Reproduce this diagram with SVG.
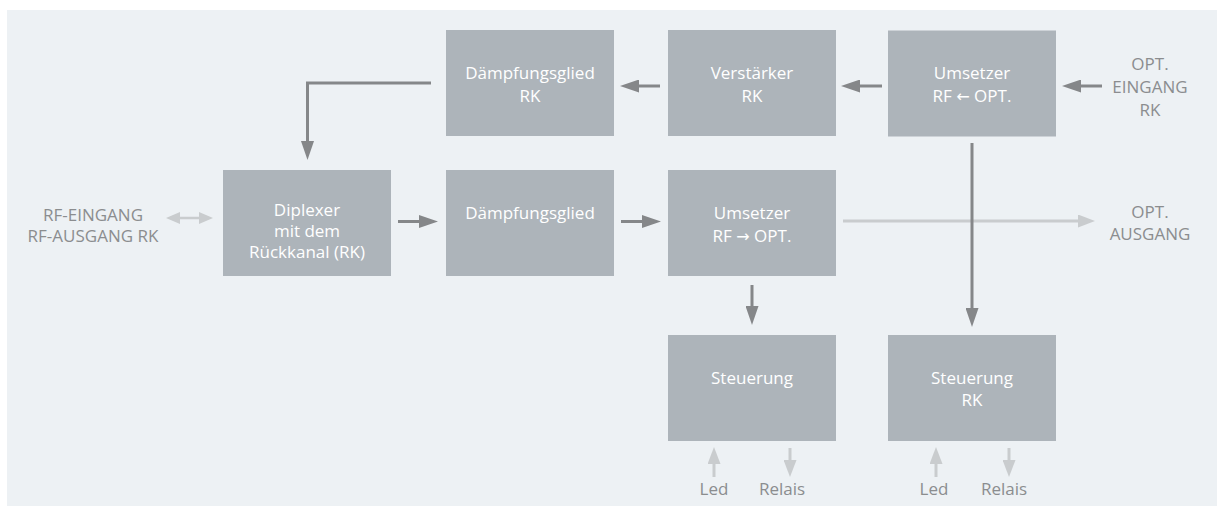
<svg xmlns="http://www.w3.org/2000/svg" width="1217" height="506" viewBox="0 0 1217 506">
  <style>
    .box { fill: #adb4ba; }
    .bt { font-family: "Open Sans", "Noto Sans", sans-serif; font-size: 17px; fill: #ffffff; text-anchor: middle; }
    .ot { font-family: "Open Sans", "Noto Sans", sans-serif; font-size: 17px; fill: #8b8d8f; text-anchor: middle; }
    .arr { font-family: "DejaVu Sans", sans-serif; font-size: 16px; }
    .dk { stroke: #858789; stroke-width: 3; fill: none; }
    .lt { stroke: #c9ccce; stroke-width: 3; fill: none; }
    .lt2 { stroke: #c9ccce; stroke-width: 2.5; fill: none; }
  </style>
  <defs>
    <marker id="ad" markerUnits="userSpaceOnUse" markerWidth="19" markerHeight="13" refX="13" refY="6.5" orient="auto" viewBox="0 0 19 13">
      <path d="M0,0 L19,6.5 L0,13 z" fill="#858789"/>
    </marker>
    <marker id="al" markerUnits="userSpaceOnUse" markerWidth="17" markerHeight="13" refX="12" refY="6.5" orient="auto" viewBox="0 0 17 13">
      <path d="M0,0 L17,6.5 L0,13 z" fill="#c9ccce"/>
    </marker>
    <marker id="as" markerUnits="userSpaceOnUse" markerWidth="14" markerHeight="12" refX="10" refY="6" orient="auto-start-reverse" viewBox="0 0 14 12">
      <path d="M0,0 L14,6 L0,12 z" fill="#c9ccce"/>
    </marker>
  </defs>

  <rect x="7" y="10" width="1210" height="496" fill="#edf1f4"/>

  <g id="connectors">
    <line class="dk" x1="1102" y1="86" x2="1068" y2="86" marker-end="url(#ad)"/>
    <line class="dk" x1="882" y1="86" x2="847" y2="86" marker-end="url(#ad)"/>
    <line class="dk" x1="660" y1="86" x2="626" y2="86" marker-end="url(#ad)"/>
    <polyline class="dk" points="431,83 307.5,83 307.5,154" marker-end="url(#ad)"/>
    <line class="dk" x1="398" y1="221.5" x2="432" y2="221.5" marker-end="url(#ad)"/>
    <line class="dk" x1="621" y1="221.5" x2="655" y2="221.5" marker-end="url(#ad)"/>
    <line class="lt" x1="843" y1="221" x2="1090" y2="221" marker-end="url(#al)"/>
    <line class="dk" x1="972" y1="143" x2="972" y2="321" marker-end="url(#ad)"/>
    <line class="dk" x1="752" y1="285" x2="752" y2="319" marker-end="url(#ad)"/>
    <line class="lt2" x1="170" y1="218" x2="209" y2="218" marker-start="url(#as)" marker-end="url(#as)"/>
    <line class="lt" x1="714" y1="477" x2="714" y2="452" marker-end="url(#al)"/>
    <line class="lt" x1="790" y1="448" x2="790" y2="472" marker-end="url(#al)"/>
    <line class="lt" x1="936" y1="477" x2="936" y2="452" marker-end="url(#al)"/>
    <line class="lt" x1="1009" y1="448" x2="1009" y2="472" marker-end="url(#al)"/>
  </g>

  <g id="daempfungsglied-rk">
    <rect class="box" x="446" y="30" width="168" height="106"/>
    <text class="bt" x="530" y="79">Dämpfungsglied</text>
    <text class="bt" x="530" y="102">RK</text>
  </g>
  <g id="verstaerker-rk">
    <rect class="box" x="668" y="30" width="168" height="106"/>
    <text class="bt" x="752" y="79">Verstärker</text>
    <text class="bt" x="752" y="102">RK</text>
  </g>
  <g id="umsetzer-rf-opt-rk">
    <rect class="box" x="888" y="30.5" width="168" height="106"/>
    <text class="bt" x="972" y="79">Umsetzer</text>
    <text class="bt" x="972" y="102">RF <tspan class="arr">←</tspan> OPT.</text>
  </g>
  <g id="diplexer">
    <rect class="box" x="223" y="170" width="168" height="106"/>
    <text class="bt" x="307" y="216">Diplexer</text>
    <text class="bt" x="307" y="237">mit dem</text>
    <text class="bt" x="307" y="258">Rückkanal (RK)</text>
  </g>
  <g id="daempfungsglied">
    <rect class="box" x="446" y="170" width="168" height="106"/>
    <text class="bt" x="530" y="219">Dämpfungsglied</text>
  </g>
  <g id="umsetzer-rf-opt">
    <rect class="box" x="668" y="170" width="168" height="106"/>
    <text class="bt" x="752" y="219">Umsetzer</text>
    <text class="bt" x="752" y="242">RF <tspan class="arr">→</tspan> OPT.</text>
  </g>
  <g id="steuerung">
    <rect class="box" x="668" y="335" width="168" height="106"/>
    <text class="bt" x="752" y="384">Steuerung</text>
  </g>
  <g id="steuerung-rk">
    <rect class="box" x="888" y="335" width="168" height="106"/>
    <text class="bt" x="972" y="384">Steuerung</text>
    <text class="bt" x="972" y="406">RK</text>
  </g>

  <g id="opt-eingang-rk">
    <text class="ot" x="1150" y="70">OPT.</text>
    <text class="ot" x="1150" y="93">EINGANG</text>
    <text class="ot" x="1150" y="116">RK</text>
  </g>
  <g id="opt-ausgang">
    <text class="ot" x="1150" y="218">OPT.</text>
    <text class="ot" x="1150" y="240">AUSGANG</text>
  </g>
  <g id="rf-eingang">
    <text class="ot" x="93" y="221">RF-EINGANG</text>
    <text class="ot" x="93" y="242">RF-AUSGANG RK</text>
  </g>
  <g id="led-relais-1">
    <text class="ot" x="714" y="495">Led</text>
    <text class="ot" x="782" y="495">Relais</text>
  </g>
  <g id="led-relais-2">
    <text class="ot" x="934" y="495">Led</text>
    <text class="ot" x="1004" y="495">Relais</text>
  </g>
</svg>
